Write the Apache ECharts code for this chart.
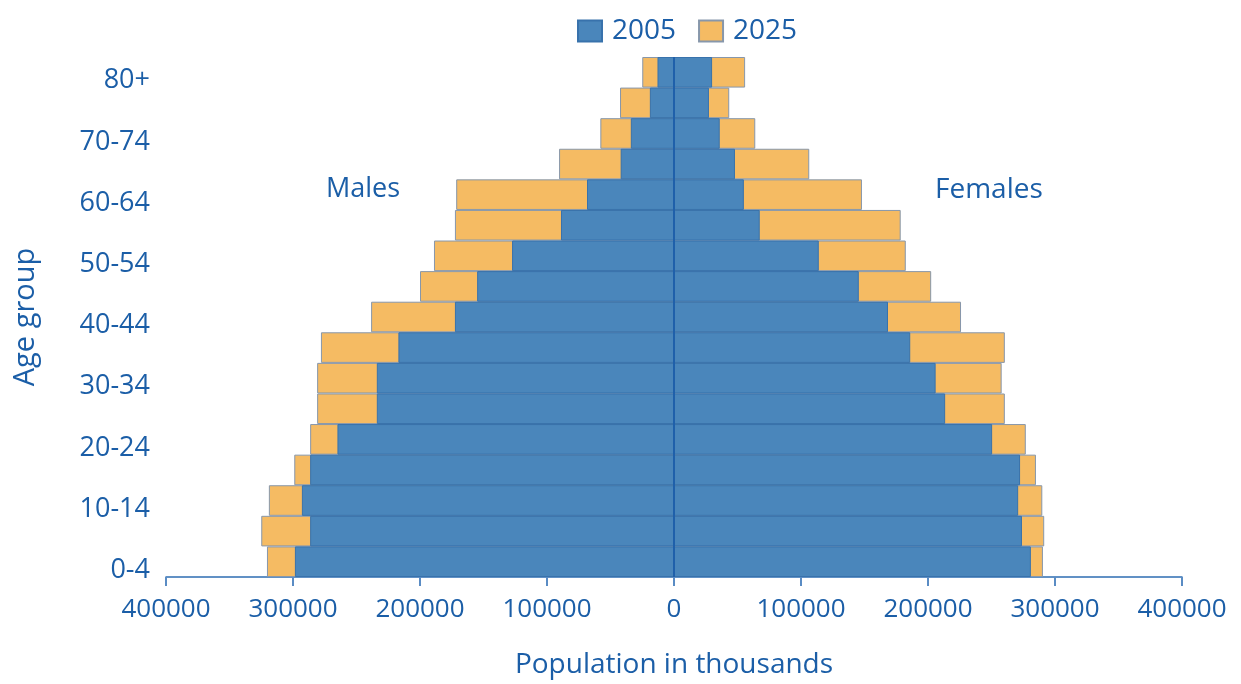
<!DOCTYPE html>
<html>
<head>
<meta charset="utf-8">
<script src="https://cdn.jsdelivr.net/npm/echarts@6/dist/echarts.min.js"></script>
<style>
html,body{margin:0;padding:0;background:#fff;}
#chart{width:1241px;height:684px;}
</style>
</head>
<body>
<div id="chart"></div>
<script>
// Age groups, bottom to top
const ageGroups = ['0-4','5-9','10-14','15-19','20-24','25-29','30-34','35-39','40-44','45-49','50-54','55-59','60-64','65-69','70-74','75-79','80+'];
// Population in thousands
const males2005   = [298500,286500,293000,286500,265000,234000,234000,217000,172500,155000,127500,89000,68500,42000,34000,19000,13000];
const males2025   = [320500,325000,319000,299000,286500,281000,281000,278000,238500,200000,189000,172500,171500,90500,58000,42500,25000];
const females2005 = [281000,274000,271000,272500,250500,213500,206000,186000,168500,145500,114000,67500,55000,48000,36000,27500,30000];
const females2025 = [290500,291500,290000,285000,277000,260500,258000,260500,226000,202500,182500,178500,148000,106500,64000,43500,56000];
const xTicks = [-400000,-300000,-200000,-100000,0,100000,200000,300000,400000];

const TXT = '#1b5ea7';
const FONT = '"Open Sans", "Noto Sans", sans-serif';
const BLUE = '#4a86bb';
const ORANGE = '#f5bb63';

const chart = echarts.init(document.getElementById('chart'));
const barCommon = {
  type: 'bar',
  barGap: '-100%',
  barCategoryGap: '0%',
  animation: false
};
chart.setOption({
  animation: false,
  textStyle: { fontFamily: FONT, color: TXT },
  legend: {
    top: 12,
    left: 572,
    data: ['2005', '2025'],
    icon: 'rect',
    itemWidth: 24,
    itemHeight: 21,
    itemGap: 22,
    textStyle: { fontFamily: FONT, fontSize: 28, color: TXT, padding: [0, 0, 0, 5] }
  },
  grid: { left: 166, right: 59, top: 57, bottom: 107, containLabel: false, outerBoundsMode: 'none' },
  xAxis: {
    type: 'value',
    min: xTicks[0],
    max: xTicks[xTicks.length - 1],
    interval: 100000,
    name: 'Population in thousands',
    nameLocation: 'middle',
    nameGap: 74,
    nameTextStyle: { fontFamily: FONT, fontSize: 28, color: TXT },
    axisLine: { show: true, lineStyle: { color: '#2e6db3', width: 1.5 } },
    axisTick: { show: true, length: 9, lineStyle: { color: '#5a8cc4', width: 2 } },
    splitLine: { show: false },
    axisLabel: {
      margin: 20,
      fontFamily: FONT, fontSize: 26, color: TXT,
      formatter: v => String(Math.abs(v))
    }
  },
  yAxis: {
    type: 'category',
    data: ageGroups,
    name: 'Age group',
    nameLocation: 'middle',
    nameGap: 126,
    nameRotate: 90,
    nameTextStyle: { fontFamily: FONT, fontSize: 29, color: TXT },
    axisLine: { show: false },
    axisTick: { show: false },
    axisLabel: {
      interval: 1,
      margin: 16,
      fontFamily: FONT, fontSize: 27, color: TXT,
      verticalAlign: 'top',
      lineHeight: 17
    }
  },
  series: [
    Object.assign({}, barCommon, {
      name: '2025', stack: 's2025',
      data: males2025.map(v => -v),
      itemStyle: { color: ORANGE, borderColor: '#8797ab', borderWidth: 1 }
    }),
    Object.assign({}, barCommon, {
      name: '2025', stack: 's2025',
      data: females2025,
      itemStyle: { color: ORANGE, borderColor: '#8797ab', borderWidth: 1 }
    }),
    Object.assign({}, barCommon, {
      name: '2005', stack: 's2005',
      data: males2005.map(v => -v),
      itemStyle: { color: BLUE, borderColor: '#3872ac', borderWidth: 1 }
    }),
    Object.assign({}, barCommon, {
      name: '2005', stack: 's2005',
      data: females2005,
      itemStyle: { color: BLUE, borderColor: '#3872ac', borderWidth: 1 },
      markLine: {
        silent: true,
        symbol: ['none', 'none'],
        label: { show: false },
        lineStyle: { color: '#1f60aa', width: 2, type: 'solid' },
        data: [{ xAxis: 0 }]
      }
    })
  ],
  graphic: [
    { type: 'text', left: 326, top: 176, style: { text: 'Males', font: '27px ' + FONT, fill: TXT } },
    { type: 'text', left: 935, top: 176, style: { text: 'Females', font: '28px ' + FONT, fill: TXT } }
  ]
});
</script>
</body>
</html>
